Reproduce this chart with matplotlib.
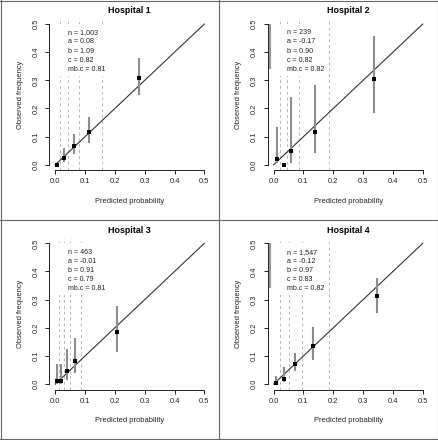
import matplotlib
matplotlib.use("Agg")
import matplotlib.pyplot as plt
from matplotlib.lines import Line2D
from matplotlib.patches import Rectangle
import numpy as np

plt.rcParams['font.family'] = ['Liberation Sans', 'DejaVu Sans']

titles = ["Hospital 1", "Hospital 2", "Hospital 3", "Hospital 4"]
n_txt = ["1,003", "239", "463", "1,547"]
a_txt = ["0.08", "-0.17", "-0.01", "-0.12"]
b_txt = ["1.09", "0.90", "0.91", "0.97"]
c_txt = ["0.82", "0.82", "0.79", "0.83"]
mbc_txt = ["0.81", "0.82", "0.81", "0.82"]

# predicted vs observed per risk group, with CI (nan = no bar drawn)
pred = [[0.006, 0.028, 0.062, 0.114, 0.281],
        [0.012, 0.033, 0.058, 0.138, 0.335],
        [0.006, 0.019, 0.039, 0.067, 0.208],
        [0.009, 0.033, 0.070, 0.133, 0.346]]
obs = [[0.000, 0.024, 0.066, 0.117, 0.309],
       [0.019, 0.000, 0.050, 0.117, 0.305],
       [0.011, 0.012, 0.045, 0.083, 0.184],
       [0.004, 0.018, 0.071, 0.135, 0.312]]
lo = [[np.nan, 0.011, 0.038, 0.078, 0.248],
      [0.005, np.nan, 0.007, 0.043, 0.185],
      [0.000, 0.002, 0.014, 0.040, 0.115],
      [0.000, 0.006, 0.047, 0.085, 0.251]]
hi = [[np.nan, 0.059, 0.111, 0.171, 0.379],
      [0.135, np.nan, 0.242, 0.284, 0.457],
      [0.073, 0.073, 0.123, 0.162, 0.278],
      [0.030, 0.062, 0.111, 0.204, 0.377]]
# group cut points (dashed lines)
cuts = [[0.0145, 0.0425, 0.078, 0.157],
        [0.022, 0.045, 0.084, 0.184],
        [0.011, 0.028, 0.050, 0.086],
        [0.020, 0.050, 0.095, 0.184]]
# stray grey bar next to the y axis in right-hand panels
side_bar = [None, (0.34, 0.5), None, (0.34, 0.5)]

W, H = 439, 440
fig = plt.figure(figsize=(W / 100, H / 100), dpi=100)

lefts = [49.3, 267.7]
tops = [18.4, 237.7]
aw, ah = 161, 152
ticks = [0.0, 0.1, 0.2, 0.3, 0.4, 0.5]

for i in range(4):
    r, c = divmod(i, 2)
    l, t = lefts[c], tops[r]
    ax = fig.add_axes([l / W, 1 - (t + ah) / H, aw / W, ah / H])
    ax.set_xlim(-0.02, 0.52)
    ax.set_ylim(-0.02, 0.52)
    for s in ["top", "right"]:
        ax.spines[s].set_visible(False)
    for s in ["left", "bottom"]:
        ax.spines[s].set_bounds(0, 0.5)
        ax.spines[s].set_linewidth(0.7)
        ax.spines[s].set_color("#222222")
    ax.set_xticks(ticks)
    ax.set_yticks(ticks)
    ax.set_xticklabels(["%.1f" % v for v in ticks])
    ax.set_yticklabels(["%.1f" % v for v in ticks], rotation=90, va="center")
    ax.tick_params(length=2.6, width=0.7, labelsize=5.4, colors="#222222")
    ax.tick_params(axis="x", pad=3.2)
    ax.tick_params(axis="y", pad=4.5)

    for x in cuts[i]:
        ax.axvline(x, color="#b8b8b8", lw=0.7, ls=(0, (3, 3)), zorder=1)

    ax.add_patch(Rectangle((0.03, 0.62), 0.33, 0.345, transform=ax.transAxes,
                           facecolor="white", edgecolor="none", zorder=2))
    leg = "n = %s\na = %s\nb = %s\nc = %s\nmb.c = %s" % (
        n_txt[i], a_txt[i], b_txt[i], c_txt[i], mbc_txt[i])
    ax.text(0.044, 0.481, leg, fontsize=5.1, va="top", ha="left",
            linespacing=1.42, color="#222222", zorder=3)

    ax.plot([0, 0.5], [0, 0.5], color="#333333", lw=0.8, zorder=3)
    ax.vlines(pred[i], lo[i], hi[i], color="#8c8c8c", lw=1.5, zorder=4)
    ax.plot(pred[i], obs[i], "s", color="black", ms=2.3, mew=0, zorder=5)
    if side_bar[i] is not None:
        ax.vlines([-0.013], side_bar[i][0], side_bar[i][1], color="#999999",
                  lw=1.5, zorder=4, clip_on=False)

    ax.text(0.5, 1.05, titles[i], fontsize=6.4, fontweight="bold",
            ha="center", va="center", transform=ax.transAxes)
    ax.set_xlabel("Predicted probability", fontsize=5.4, va="center", color="#222222")
    ax.set_ylabel("Observed frequency", fontsize=5.4, va="center", color="#222222")
    ax.xaxis.set_label_coords(0.5, -0.202)
    ax.yaxis.set_label_coords(-0.18, 0.5)

# panel frames
fc = "#666666"
for x in [0.6, 219.5, 438.4]:
    fig.add_artist(Line2D([x / W, x / W], [0, 1], color=fc, lw=0.8))
for y in [0.6, 220, 439.4]:
    fig.add_artist(Line2D([0, 1], [1 - y / H, 1 - y / H], color=fc, lw=0.8))

fig.savefig("out.png", dpi=100)
